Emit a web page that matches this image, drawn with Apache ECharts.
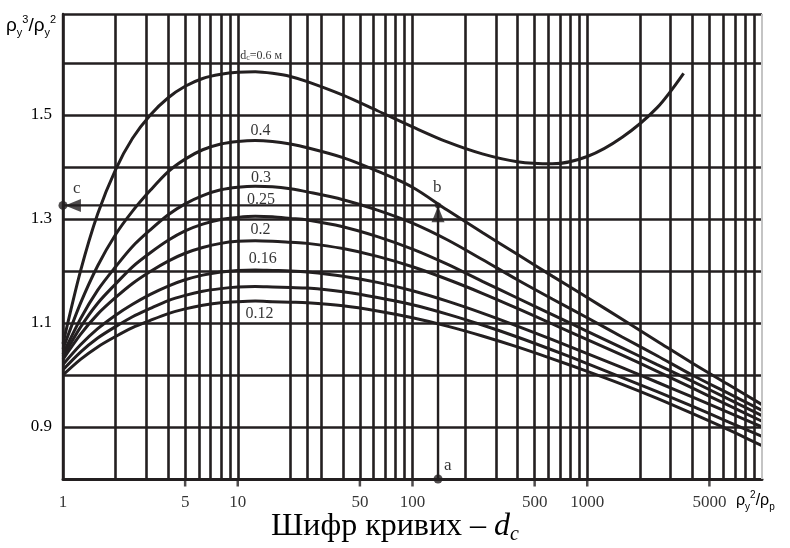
<!DOCTYPE html>
<html><head><meta charset="utf-8">
<script src="https://cdn.jsdelivr.net/npm/echarts@6/dist/echarts.min.js"></script>
<style>html,body{margin:0;padding:0;background:#fff}#c{width:790px;height:548px}</style>
</head><body><div id="c"></div>
<script>
const INK = '#231f20';
const SERIF = "'Liberation Serif','Times New Roman',serif";
const SANS = "'Liberation Sans',Arial,sans-serif";

// vertical grid lines (x values)
const gridX = [1,2,3,4,5,6,7,8,9,10,20,25,30,40,50,60,70,80,90,100,200,300,400,500,600,700,800,900,1000,2000,3000,4000,5000,6000,7000,8000,9000];
// x tick labels
const xLabelVals = [1,5,10,50,100,500,1000,5000];
const xLabelText = ['1','5','10','50','100','500','1000','5000'];
const xTickVals = [5,10,50,100,500,1000,5000];
// y tick labels
const yLabelVals = [0.9,1.1,1.3,1.5];

// x positions of the read-off points
const xs   = [1,1.26,1.58,2,2.5,3.16,4,5,6.3,8,10,12.6,15.8,20,25,40,63,100,158,251,398,631,1000,1585,2512,3981,6310,10000];
const xs06 = [1,1.26,1.58,2,2.5,3.16,4,5,6.3,8,10,12.6,15.8,20,25,40,63,100,158,251,398,631,1000,1585,2512,3560];
// curve values, d_c
const y060 = [1.06,1.20,1.31,1.395,1.455,1.50,1.533,1.555,1.570,1.578,1.582,1.583,1.580,1.574,1.564,1.538,1.508,1.477,1.448,1.425,1.410,1.406,1.420,1.457,1.514,1.580];
const y040 = [1.05,1.138,1.210,1.270,1.315,1.355,1.391,1.415,1.433,1.444,1.449,1.451,1.449,1.444,1.437,1.418,1.392,1.361,1.317,1.274,1.232,1.190,1.149,1.107,1.065,1.023,0.983,0.943];
const y030 = [1.04,1.108,1.163,1.208,1.247,1.279,1.308,1.329,1.345,1.356,1.361,1.363,1.362,1.358,1.352,1.337,1.317,1.292,1.260,1.222,1.183,1.146,1.110,1.073,1.037,1.000,0.966,0.932];
const y025 = [1.035,1.092,1.138,1.175,1.208,1.235,1.259,1.277,1.290,1.299,1.303,1.305,1.304,1.301,1.298,1.285,1.266,1.242,1.213,1.180,1.148,1.116,1.084,1.052,1.020,0.988,0.955,0.922];
const y020 = [1.03,1.078,1.117,1.149,1.176,1.199,1.219,1.234,1.245,1.253,1.257,1.258,1.257,1.255,1.253,1.243,1.228,1.208,1.184,1.157,1.128,1.098,1.068,1.038,1.007,0.975,0.943,0.911];
const y016 = [1.02,1.058,1.089,1.115,1.136,1.155,1.171,1.183,1.192,1.198,1.201,1.202,1.201,1.200,1.198,1.190,1.178,1.162,1.142,1.119,1.094,1.068,1.041,1.014,0.986,0.958,0.929,0.900];
const y014 = [1.01,1.044,1.071,1.093,1.112,1.128,1.143,1.153,1.161,1.166,1.169,1.170,1.169,1.168,1.167,1.160,1.149,1.135,1.117,1.096,1.073,1.048,1.022,0.995,0.968,0.940,0.911,0.882];
const y012 = [1.00,1.030,1.054,1.074,1.091,1.105,1.118,1.127,1.134,1.139,1.141,1.142,1.141,1.140,1.139,1.133,1.123,1.110,1.094,1.075,1.054,1.031,1.007,0.982,0.955,0.926,0.896,0.864];
const curveY = [y060,y040,y030,y025,y020,y016,y014,y012];

// curve labels
const curveLabelText = ['0.4','0.3','0.25','0.2','0.16','0.12'];
const curveLabelPos = [[13.5,1.470],[13.6,1.380],[13.6,1.337],[13.5,1.280],[13.9,1.224],[13.3,1.117]];
const topLabelPos = [13.6,1.6135];

// construction points
const pointA = [140,0.8];
const pointB = [140,1.326];
const pointC = [1,1.326];

const chart = echarts.init(document.getElementById('c'), null, {renderer:'canvas'});

const series = [];
series.push({
  type:'line', data:[], silent:true,
  markLine:{silent:true, symbol:['none','none'], label:{show:false},
    lineStyle:{color:INK, width:2.6, type:'solid'},
    data: gridX.map(v=>({xAxis:v})).concat([{xAxis:10000, lineStyle:{color:'#c4c4c4', width:2, type:'solid'}}])}
});
curveY.forEach((ys,k)=>{
  const xx = k===0 ? xs06 : xs;
  series.push({type:'line', data: ys.map((y,i)=>[xx[i], y]), smooth:0.3, showSymbol:false, symbol:'none',
    lineStyle:{color:INK, width:3}, silent:true});
});
// construction lines
series.push({type:'line', data:[pointA,pointB], symbol:'none', lineStyle:{color:INK,width:2.4}, clip:false});
series.push({type:'line', data:[pointB,pointC], symbol:'none', lineStyle:{color:INK,width:2.4}, clip:false});
// arrowheads
series.push({type:'scatter', clip:false, symbol:'triangle', symbolSize:[13,16], itemStyle:{color:INK},
  data:[[pointB[0], pointB[1]-0.017]]});
series.push({type:'scatter', clip:false, symbol:'triangle', symbolSize:[13,16], symbolRotate:90, itemStyle:{color:INK},
  data:[[1.14, pointC[1]]]});
// dots
series.push({type:'scatter', clip:false, symbol:'circle', symbolSize:9, itemStyle:{color:INK}, data:[pointA,pointC]});
series.push({type:'scatter', clip:false, symbol:'circle', symbolSize:6, itemStyle:{color:INK}, data:[pointB]});
// letters
const letterStyle = {show:true, fontFamily:SERIF, fontSize:17, color:'#000'};
series.push({type:'scatter', clip:false, symbolSize:0, data:[
  {value:pointA, label:Object.assign({}, letterStyle, {formatter:'a', position:[6,-22]})},
  {value:pointB, label:Object.assign({}, letterStyle, {formatter:'b', position:[-5,-26]})},
  {value:pointC, label:Object.assign({}, letterStyle, {formatter:'c', position:[10,-25]})}
]});
// curve labels
series.push({type:'scatter', clip:false, symbolSize:0,
  data: curveLabelPos.map((p,i)=>({value:p, label:{show:true, position:'inside', formatter:curveLabelText[i], fontFamily:SERIF, fontSize:16, color:'#000'}}))
    .concat([{value:topLabelPos, label:{show:true, position:'inside', fontFamily:SERIF, color:'#000',
      formatter:'{m|d}{s|c}{m|=0.6 м}',
      rich:{m:{fontSize:12, lineHeight:12, verticalAlign:'top', fontFamily:SERIF, color:'#000'},
            s:{fontSize:8, lineHeight:8, padding:[7,0,0,0], verticalAlign:'bottom', fontFamily:SERIF, color:'#000'}}}}])
});
// x ticks
series.push({type:'scatter', clip:false, symbol:'rect', symbolSize:[2.5,7], symbolOffset:[0,4], itemStyle:{color:INK},
  data: xTickVals.map(v=>[v,0.8])});
// x labels
series.push({type:'scatter', clip:false, symbolSize:0,
  data: xLabelVals.map((v,i)=>({value:[v,0.8], label:{show:true, position:'bottom', distance:15, formatter:xLabelText[i], fontFamily:SERIF, fontSize:17, color:'#000'}}))});

const option = {
  animation:false,
  backgroundColor:'#fff',
  grid:{left:63, right:28, top:14, bottom:69, containLabel:false},
  xAxis:{type:'log', logBase:10, min:1, max:10000,
    axisLine:{show:true, onZero:false, lineStyle:{color:INK, width:3}},
    axisTick:{show:false}, axisLabel:{show:false}, splitLine:{show:false}, minorSplitLine:{show:false}},
  yAxis:{type:'value', min:0.8, max:1.694, interval:0.1,
    axisLine:{show:true, onZero:false, lineStyle:{color:INK, width:2.4}},
    axisTick:{show:false},
    axisLabel:{margin:11, fontFamily:SERIF, fontSize:17, color:'#000', showMaxLabel:false, showMinLabel:false,
      formatter:v=>{const r=Math.round(v*10)/10; return (yLabelVals.some(x=>Math.abs(x-v)<1e-6)) ? r.toFixed(1) : '';}},
    splitLine:{show:true, lineStyle:{color:INK, width:2.6}}},
  series: series,
  graphic:[
    {type:'text', left:6, top:14, style:{
      text:'{m|ρ}{s|у}{p|3}{m|/ρ}{s|у}{p|2}',
      rich:{m:{fontSize:19, lineHeight:24, verticalAlign:'middle', fontFamily:SANS, fill:'#000'},
            s:{fontSize:11, lineHeight:11, verticalAlign:'bottom', fontFamily:SANS, fill:'#000'},
            p:{fontSize:11, lineHeight:11, verticalAlign:'top', fontFamily:SANS, fill:'#000'}}}},
    {type:'text', left:736, top:490, style:{
      text:'{m|ρ}{s|у}{p|2}{m|/ρ}{s|р}',
      rich:{m:{fontSize:16, lineHeight:22, verticalAlign:'middle', fontFamily:SANS, fill:'#000'},
            s:{fontSize:10, lineHeight:10, verticalAlign:'bottom', fontFamily:SANS, fill:'#000'},
            p:{fontSize:10, lineHeight:10, verticalAlign:'top', fontFamily:SANS, fill:'#000'}}}},
    {type:'text', left:'center', top:511, style:{
      text:'{m|Шифр кривих – }{i|d}{s|c}',
      rich:{m:{fontSize:32, lineHeight:36, verticalAlign:'middle', fontFamily:SERIF, fill:'#000'},
            i:{fontSize:32, lineHeight:36, verticalAlign:'middle', fontStyle:'italic', fontFamily:SERIF, fill:'#000'},
            s:{fontSize:20, lineHeight:20, padding:[9,0,0,0], verticalAlign:'bottom', fontStyle:'italic', fontFamily:SERIF, fill:'#000'}}}}
  ]
};
chart.setOption(option);
</script></body></html>
